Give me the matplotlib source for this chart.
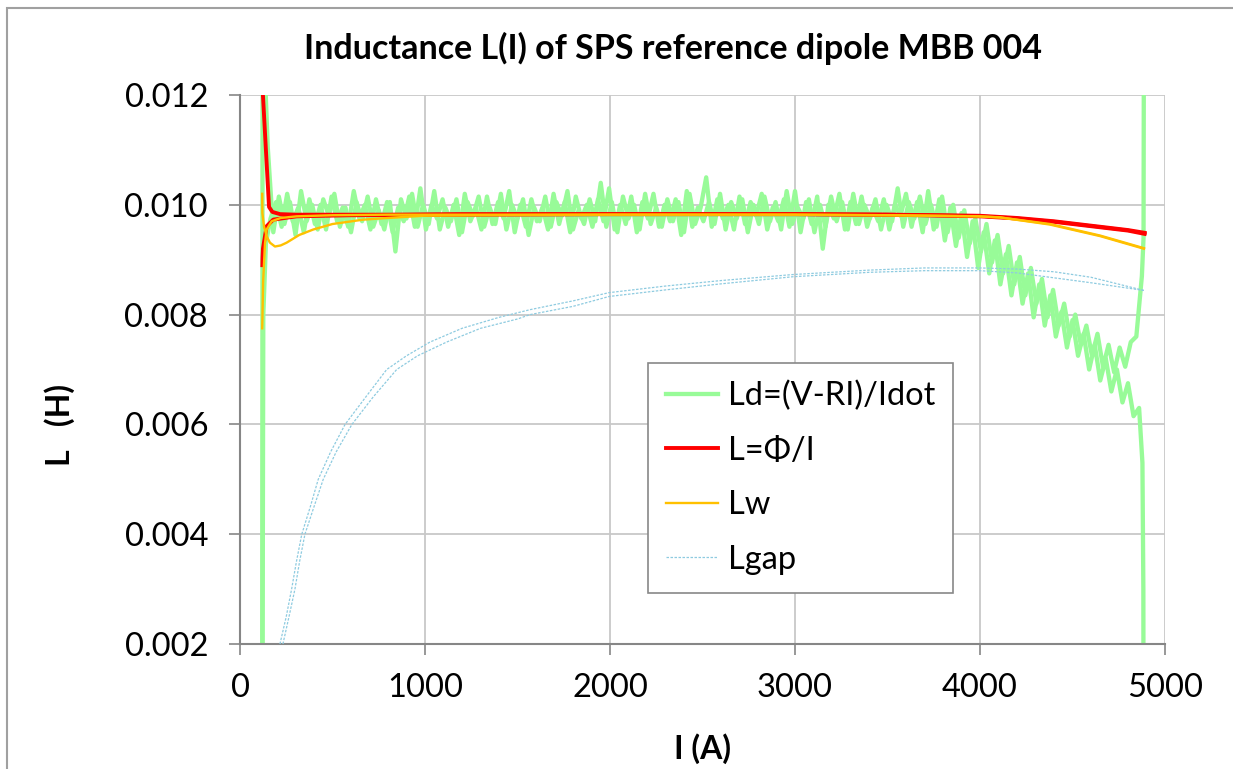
import matplotlib
matplotlib.use("Agg")
import matplotlib.pyplot as plt
from matplotlib.patches import Rectangle
import numpy as np

plt.rcParams['font.family'] = ['Lato', 'DejaVu Sans']

# ---- data (currents in A, inductances read in mH) ----
# Ld = (V-RI)/Idot, two ramps, read every 30 A plus the divergent ends
ld1_I = [120, 122] + list(range(150, 4861, 30)) + [4878, 4883, 4884]
ld1_mH = [0.0, 13.5,
          11.05, 9.50, 10.15, 9.65, 10.05, 9.45, 10.25, 9.70, 10.00, 9.55,
          10.10, 9.80, 10.20, 9.60, 9.95, 9.50, 10.05, 9.70, 10.15, 9.60,
          9.90, 9.55, 10.05, 9.15, 10.10, 9.75, 10.20, 9.60, 10.00, 9.65,
          10.25, 9.55, 9.95, 9.70, 10.10, 9.50, 10.05, 9.80, 10.15, 9.60,
          9.95, 9.65, 10.20, 9.55, 10.00, 9.75, 10.10, 9.45, 9.95, 9.70,
          10.15, 9.60, 10.05, 9.80, 10.25, 9.55, 9.90, 9.65, 10.10, 9.70,
          10.40, 9.60, 10.05, 9.50, 10.15, 9.75, 10.00, 9.55, 10.20, 9.65,
          9.95, 9.60, 10.10, 9.70, 10.05, 9.50, 10.20, 9.65, 9.95, 10.50,
          9.60, 10.10, 9.75, 10.00, 9.55, 10.15, 9.65, 10.05, 9.80, 10.20,
          9.55, 9.95, 9.70, 10.10, 9.60, 10.25, 9.50, 10.05, 9.65, 10.15,
          9.20, 10.00, 9.75, 10.20, 9.55, 10.05, 9.65, 10.15, 9.60, 9.95,
          9.70, 10.10, 9.55, 10.00, 9.80, 10.20, 9.60, 10.05, 9.50, 10.25,
          9.55, 10.10, 9.35, 9.95, 9.25, 9.85, 9.05, 9.70, 8.85, 9.50,
          8.75, 9.35, 8.55, 9.10, 8.35, 8.95, 8.20, 8.75, 7.95, 8.55,
          7.80, 8.35, 7.60, 8.05, 7.40, 7.90, 7.25, 7.65, 7.00, 7.45,
          6.80, 7.20, 6.60, 7.00, 6.40, 6.75, 6.15, 6.30,
          5.30, 3.00, 0.0]

ld2_I = [121, 126, 140] + list(range(165, 4876, 30)) + [4884, 4886]
ld2_mH = [0.0, 8.00, 9.30,
          9.75, 10.05, 9.60, 10.20, 9.70, 9.95, 9.50, 10.10, 9.65, 10.00,
          9.55, 10.15, 9.70, 9.95, 9.60, 10.25, 9.75, 10.00, 9.55, 10.10,
          9.65, 10.05, 9.50, 9.95, 9.70, 10.15, 9.60, 10.30, 9.55, 10.00,
          9.75, 10.10, 9.60, 10.00, 9.45, 10.20, 9.70, 9.95, 9.55, 10.15,
          9.65, 10.05, 9.75, 10.25, 9.50, 10.00, 9.60, 10.10, 9.70, 9.95,
          9.55, 10.20, 9.65, 10.05, 9.50, 10.15, 9.75, 10.00, 9.60, 10.10,
          9.70, 10.30, 9.55, 10.00, 9.65, 10.15, 9.50, 10.05, 9.75, 10.20,
          9.60, 10.00, 9.70, 10.10, 9.45, 10.25, 9.60, 9.95, 9.70, 10.05,
          9.65, 10.20, 9.55, 10.05, 9.75, 10.10, 9.50, 10.00, 9.65, 10.15,
          9.70, 10.05, 9.55, 10.25, 9.65, 9.95, 9.75, 10.10, 9.50, 10.00,
          9.60, 10.15, 9.70, 10.05, 9.55, 10.20, 9.65, 10.00, 9.75, 10.10,
          9.55, 10.00, 9.70, 10.30, 9.60, 10.05, 9.75, 10.15, 9.65, 10.00,
          9.60, 10.15, 9.50, 10.00, 9.40, 9.90, 9.30, 9.75, 9.15, 9.65,
          8.95, 9.45, 8.75, 9.25, 8.55, 9.05, 8.35, 8.85, 8.20, 8.65,
          7.95, 8.45, 7.80, 8.20, 7.60, 8.00, 7.45, 7.80, 7.25, 7.65,
          7.05, 7.45, 6.95, 7.40, 7.05, 7.50, 7.60, 8.70,
          9.40, 13.5]

# L = Phi/I
phi1_I = [121, 124, 140, 157, 175, 216, 300, 500, 800, 1200, 2000, 3000,
          3500, 3800, 4000, 4200, 4400, 4600, 4800, 4890]
phi1_mH = [14.0, 12.0, 11.0, 9.96, 9.87, 9.83, 9.82, 9.82, 9.82, 9.83, 9.83,
           9.83, 9.82, 9.81, 9.80, 9.76, 9.70, 9.62, 9.54, 9.49]
phi2_I = [121, 122, 124, 144, 180, 306, 600, 1200, 2000, 3000, 3500, 4000,
          4200, 4400, 4600, 4800, 4890]
phi2_mH = [8.90, 9.05, 9.20, 9.61, 9.73, 9.79, 9.81, 9.82, 9.83, 9.83, 9.82,
           9.79, 9.75, 9.69, 9.61, 9.53, 9.47]

# Lw
lw1_I = [120, 121, 130, 145, 162, 189, 220, 252, 320, 396, 500, 667, 800,
         991, 1300, 2000, 3000, 3500, 3990, 4108, 4378, 4649, 4886]
lw1_mH = [10.20, 9.85, 9.60, 9.42, 9.31, 9.24, 9.26, 9.31, 9.45, 9.55, 9.65,
          9.73, 9.76, 9.80, 9.81, 9.82, 9.82, 9.81, 9.79, 9.77, 9.64, 9.43, 9.20]
lw2_I = [120, 121, 125, 135, 144, 171, 220, 306, 500, 800, 1200, 2000, 3000,
         3500, 3990, 4108, 4378, 4649, 4886]
lw2_mH = [7.75, 7.90, 8.60, 9.30, 9.55, 9.70, 9.76, 9.79, 9.81, 9.82, 9.82,
          9.82, 9.82, 9.81, 9.79, 9.77, 9.65, 9.44, 9.21]

# Lgap
gap1_I = [216, 250, 279, 305, 334, 380, 423, 490, 568, 680, 793, 900, 1027,
          1200, 1400, 1568, 1800, 1995, 2300, 2600, 2990, 3400, 3700, 4000,
          4200, 4400, 4600, 4886]
gap1_mH = [2.0, 2.5, 3.0, 3.5, 4.0, 4.5, 5.0, 5.5, 6.0, 6.5, 7.0, 7.25, 7.5,
           7.75, 7.95, 8.09, 8.25, 8.40, 8.52, 8.62, 8.73, 8.81, 8.85, 8.85,
           8.83, 8.78, 8.68, 8.44]
gap2_I = [232, 265, 297, 322, 351, 400, 450, 520, 605, 720, 847, 960, 1117,
          1300, 1500, 1568, 1800, 1995, 2300, 2600, 2990, 3400, 3700, 4000,
          4200, 4400, 4600, 4886]
gap2_mH = [2.0, 2.5, 3.0, 3.5, 4.0, 4.5, 5.0, 5.5, 6.0, 6.5, 7.0, 7.25, 7.5,
           7.75, 7.92, 8.0, 8.15, 8.33, 8.45, 8.56, 8.69, 8.77, 8.80, 8.80,
           8.76, 8.67, 8.58, 8.44]

title = "Inductance L(I) of SPS reference dipole MBB 004"
labels = ["Ld=(V-RI)/Idot", "L=\u03a6/I", "Lw", "Lgap"]

def H(v):
    # mH -> H
    return np.array(v) * 1e-3

fig = plt.figure(figsize=(12.33, 7.69), dpi=100)
ax = fig.add_axes([240/1233, 1-644/769, 925/1233, 549/769])

green = '#98fb98'
ax.plot(ld1_I, H(ld1_mH), color=green, lw=3.1, label=labels[0], zorder=2)
ax.plot(ld2_I, H(ld2_mH), color=green, lw=3.1, zorder=2)
ax.plot(phi1_I, H(phi1_mH), color='#ff0000', lw=2.8, label=labels[1], zorder=3)
ax.plot(phi2_I, H(phi2_mH), color='#ff0000', lw=2.8, zorder=3)
ax.plot(lw1_I, H(lw1_mH), color='#ffc000', lw=1.7, label=labels[2], zorder=4)
ax.plot(lw2_I, H(lw2_mH), color='#ffc000', lw=1.7, zorder=4)
ax.plot(gap1_I, H(gap1_mH), color='#8ecbe0', lw=0.9, ls=(0, (2, 1.2)), label=labels[3], zorder=5)
ax.plot(gap2_I, H(gap2_mH), color='#8ecbe0', lw=0.9, ls=(0, (2, 1.2)), zorder=5)

ax.set_xlim(0, 5000)
ax.set_ylim(0.002, 0.012)
ax.set_xticks([0, 1000, 2000, 3000, 4000, 5000])
ax.set_yticks([0.002, 0.004, 0.006, 0.008, 0.010, 0.012])
ax.set_yticklabels(['0.002', '0.004', '0.006', '0.008', '0.010', '0.012'])
ax.grid(True, color='#c8c8c8', lw=1.3)
ax.set_axisbelow(True)
for s in ['top', 'right']:
    ax.spines[s].set_visible(False)
for s in ['left', 'bottom']:
    ax.spines[s].set_color('#868686')
    ax.spines[s].set_linewidth(1.5)
ax.tick_params(axis='both', direction='out', length=8, width=1.2,
               color='#868686', labelsize=23.5)
ax.tick_params(axis='y', pad=15)
ax.tick_params(axis='x', pad=13)

fig.text(673/1233, 1-48/769, title, ha='center', va='center',
         fontsize=24.5, fontweight='bold')
fig.text(60/1233, 1-425/769, "L   (H)", ha='center', va='center',
         rotation=90, fontsize=23, fontweight='bold')
fig.text(703/1233, 1-749/769, "I (A)", ha='center', va='center',
         fontsize=23, fontweight='bold')

leg = ax.legend(loc='upper left', bbox_to_anchor=(648/1233, 1-363/769),
                bbox_transform=fig.transFigure, borderaxespad=0,
                fontsize=23.5, frameon=True, fancybox=False, framealpha=1,
                edgecolor='#888888', handlelength=1.6, handletextpad=0.3,
                labelspacing=0.75, borderpad=0.55)
leg.get_frame().set_linewidth(1.2)

# outer chart border
fig.patches.append(Rectangle((7/1233, -0.1), 1.2, 1-8/769+0.1,
                             transform=fig.transFigure, fill=False,
                             edgecolor='#a0a0a0', lw=1.5))

fig.savefig("out.png", dpi=100)
